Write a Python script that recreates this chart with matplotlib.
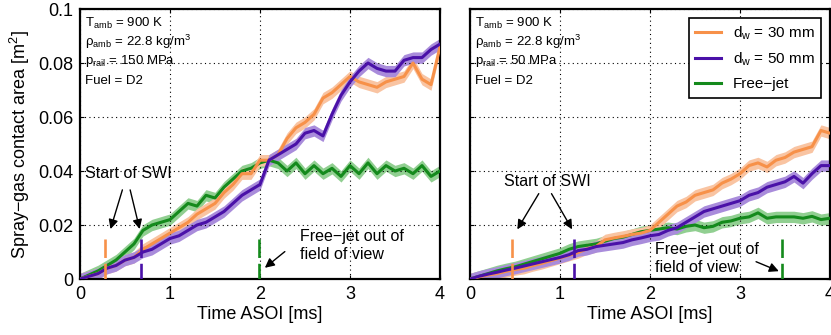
import matplotlib.pyplot as plt
import numpy as np

plt.rcParams['font.family'] = ['Liberation Sans', 'DejaVu Sans']
plt.rcParams['mathtext.fontset'] = 'custom'
plt.rcParams['mathtext.rm'] = 'Liberation Sans'
plt.rcParams['mathtext.it'] = 'Liberation Sans:italic'

# time axis (ms)
t = np.arange(41) * 0.1

# left panel: p_rail = 150 MPa
left_d30 = [0, 0.001, 0.002, 0.004, 0.005, 0.007, 0.008, 0.011, 0.013, 0.015,
            0.017, 0.019, 0.021, 0.024, 0.026, 0.028, 0.032, 0.035, 0.039, 0.039,
            0.044, 0.044, 0.046, 0.052, 0.056, 0.058, 0.061, 0.067, 0.069, 0.072,
            0.075, 0.073, 0.072, 0.071, 0.073, 0.074, 0.075, 0.080, 0.074, 0.072,
            0.086]
left_d50 = [0, 0.001, 0.002, 0.004, 0.005, 0.007, 0.008, 0.010, 0.011, 0.013,
            0.015, 0.016, 0.018, 0.020, 0.021, 0.023, 0.025, 0.028, 0.031, 0.033,
            0.035, 0.044, 0.046, 0.048, 0.050, 0.054, 0.055, 0.053, 0.061, 0.068,
            0.073, 0.077, 0.080, 0.078, 0.077, 0.077, 0.081, 0.082, 0.082, 0.085,
            0.087]
left_free = [0, 0.0015, 0.003, 0.005, 0.007, 0.010, 0.013, 0.018, 0.020, 0.021,
             0.022, 0.025, 0.028, 0.027, 0.031, 0.030, 0.034, 0.037, 0.040, 0.041,
             0.043, 0.044, 0.043, 0.040, 0.043, 0.039, 0.042, 0.039, 0.041, 0.038,
             0.042, 0.039, 0.043, 0.039, 0.042, 0.040, 0.041, 0.039, 0.042, 0.038,
             0.040]

# right panel: p_rail = 50 MPa
right_d30 = [0, 0.0008, 0.0015, 0.002, 0.0028, 0.0035, 0.004, 0.005, 0.0058, 0.0068,
             0.0078, 0.0088, 0.0098, 0.0112, 0.012, 0.0145, 0.0152, 0.0158, 0.0165, 0.017,
             0.018, 0.021, 0.024, 0.027, 0.0285, 0.031, 0.032, 0.033, 0.0355, 0.037,
             0.039, 0.042, 0.043, 0.0415, 0.044, 0.045, 0.047, 0.048, 0.049, 0.055,
             0.054]
right_d50 = [0, 0.001, 0.0018, 0.0025, 0.0033, 0.004, 0.0048, 0.0056, 0.0064, 0.0072,
             0.008, 0.009, 0.0105, 0.011, 0.012, 0.0125, 0.013, 0.0135, 0.0145, 0.0152,
             0.016, 0.0165, 0.018, 0.019, 0.021, 0.023, 0.025, 0.026, 0.027, 0.028,
             0.029, 0.031, 0.032, 0.034, 0.035, 0.036, 0.038, 0.0355, 0.039, 0.042,
             0.042]
right_free = [0, 0.001, 0.002, 0.003, 0.0038, 0.0045, 0.0055, 0.0065, 0.0075, 0.0085,
              0.0095, 0.011, 0.012, 0.0125, 0.013, 0.014, 0.015, 0.0155, 0.0165, 0.0175,
              0.018, 0.0185, 0.019, 0.0185, 0.0195, 0.020, 0.019, 0.0195, 0.021, 0.0215,
              0.0225, 0.023, 0.0245, 0.0225, 0.023, 0.023, 0.023, 0.0225, 0.0232, 0.022,
              0.0225]

# start of SWI / free-jet leaving field of view (ms)
left_marks = [0.28, 0.68, 1.99]
right_marks = [0.47, 1.16, 3.47]
mark_h = 0.015

labels = ['d$_{\\rm w}$ = 30 mm', 'd$_{\\rm w}$ = 50 mm', 'Free\u2212jet']
colors = ['#f79149', '#4a11a8', '#148a1c']
bands = ['#f9c4a2', '#a98cdb', '#91cf91']
band = 0.0021

fig = plt.figure(figsize=(8.31, 3.35), dpi=100)
ax1 = fig.add_axes([80/831, 56/335, 360/831, 270/335])
ax2 = fig.add_axes([470/831, 56/335, 360/831, 270/335])


def draw(ax, series, marks, rail):
    for k in [2, 0, 1]:
        y = np.array(series[k])
        ax.fill_between(t, y - band, y + band, color=bands[k], lw=0, zorder=1)
    for k in [2, 0, 1]:
        ax.plot(t, series[k], color=colors[k], lw=2.2, label=labels[k], zorder=3)
    for k in range(3):
        ax.plot([marks[k], marks[k]], [mark_h, 0], color=colors[k], lw=1.9,
                dashes=(7, 2.2), zorder=4)
    ax.set_xlim(0, 4)
    ax.set_ylim(0, 0.1)
    ax.set_xticks([0, 1, 2, 3, 4])
    ax.set_yticks([0, 0.02, 0.04, 0.06, 0.08, 0.1])
    ax.set_yticklabels(['0', '0.02', '0.04', '0.06', '0.08', '0.1'])
    ax.grid(True, color='black', linestyle=(0, (1, 3)), lw=0.8)
    ax.tick_params(direction='in', top=True, right=True, labelsize=13, length=3, pad=5)
    for s in ax.spines.values():
        s.set_linewidth(1.6)
    ax.set_xlabel('Time ASOI [ms]', fontsize=13, labelpad=2)
    ptxt = ['T$_{\\rm amb}$ = 900 K', '\u03c1$_{\\rm amb}$ = 22.8 kg/m$^3$',
            'p$_{\\rm rail}$ = ' + rail + ' MPa', 'Fuel = D2']
    for i, s in enumerate(ptxt):
        ax.text(0.06, 0.0948 - i * 0.0071, s, fontsize=9.5, va='center', zorder=5)


draw(ax1, [left_d30, left_d50, left_free], left_marks, '150')
draw(ax2, [right_d30, right_d50, right_free], right_marks, '50')
ax1.set_ylabel('Spray\u2212gas contact area [m$^2$]', fontsize=13, labelpad=4)
ax2.set_yticklabels([])

arw = dict(arrowstyle='-|>', color='black', lw=1.0, mutation_scale=14)

# left annotations
ax1.text(0.54, 0.039, 'Start of SWI', fontsize=11.5, ha='center', va='center')
ax1.annotate('', xy=(0.33, 0.0175), xytext=(0.48, 0.0340), arrowprops=arw)
ax1.annotate('', xy=(0.67, 0.0175), xytext=(0.55, 0.0340), arrowprops=arw)
ax1.text(2.44, 0.0185, 'Free\u2212jet out of\nfield of view', fontsize=11.5,
         va='top', linespacing=1.25)
ax1.annotate('', xy=(2.03, 0.0035), xytext=(2.3, 0.0108), arrowprops=arw)

# right annotations
ax2.text(0.86, 0.036, 'Start of SWI', fontsize=11.5, ha='center', va='center')
ax2.annotate('', xy=(0.51, 0.0175), xytext=(0.78, 0.0325), arrowprops=arw)
ax2.annotate('', xy=(1.15, 0.0175), xytext=(0.89, 0.0325), arrowprops=arw)
ax2.text(2.06, 0.0138, 'Free\u2212jet out of\nfield of view', fontsize=11.5,
         va='top', linespacing=1.25)
ax2.annotate('', xy=(3.46, 0.0025), xytext=(3.15, 0.0068), arrowprops=arw)

h, l = ax2.get_legend_handles_labels()
order = [1, 2, 0]
leg = ax2.legend([h[i] for i in order], [l[i] for i in order], loc='upper right',
                 fontsize=11, fancybox=False, edgecolor='black', framealpha=1,
                 handlelength=1.7, borderaxespad=0.6, labelspacing=0.6)
leg.get_frame().set_linewidth(1.2)
leg.set_zorder(10)

fig.savefig('out.png', dpi=100)
